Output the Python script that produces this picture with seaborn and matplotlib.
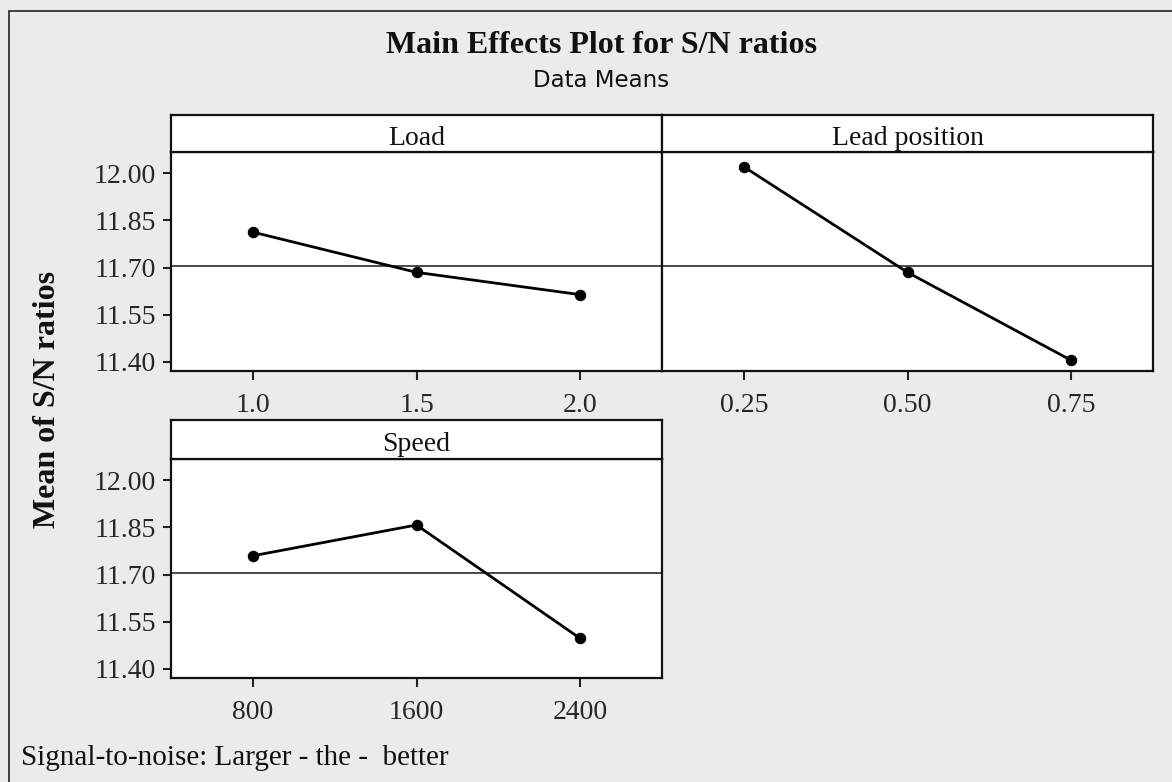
import numpy as np
import pandas as pd
import matplotlib
matplotlib.use("Agg")
import matplotlib.pyplot as plt
import seaborn as sns
from matplotlib.patches import Rectangle

# ---------------- data ----------------
load_levels = [1.0, 1.5, 2.0]
load_sn = [11.813, 11.685, 11.614]
load_ticklabels = ["1.0", "1.5", "2.0"]

leadpos_levels = [0.25, 0.50, 0.75]
leadpos_sn = [12.021, 11.685, 11.405]
leadpos_ticklabels = ["0.25", "0.50", "0.75"]

speed_levels = [800, 1600, 2400]
speed_sn = [11.760, 11.858, 11.497]
speed_ticklabels = ["800", "1600", "2400"]

y_ticks = [11.40, 11.55, 11.70, 11.85, 12.00]
y_ticklabels = ["11.40", "11.55", "11.70", "11.85", "12.00"]

panel_titles = ["Load", "Lead position", "Speed"]

grand_mean = float(np.mean(load_sn + leadpos_sn + speed_sn))

# ---------------- style ----------------
sns.set_theme(style="white")
plt.rcParams["font.family"] = ["Liberation Serif", "DejaVu Serif"]
plt.rcParams["text.color"] = "#111111"

W, H = 1172, 782
fig = plt.figure(figsize=(W / 100, H / 100), dpi=100, facecolor="#ebebeb")

# figure border (left/top visible)
fig.patches.append(Rectangle((9 / W, -0.05), 1.2, 1 - 11 / H + 0.05,
                             transform=fig.transFigure, fill=False,
                             edgecolor="#222222", linewidth=1.2, zorder=0))

YLIM = (11.371, 12.068)


def add_panel(l, r, strip_top, data_top, bottom, title, levels, values,
              ticklabels, xlim, show_y):
    ax = fig.add_axes([l / W, 1 - bottom / H, (r - l) / W, (bottom - data_top) / H])
    sax = fig.add_axes([l / W, 1 - data_top / H, (r - l) / W, (data_top - strip_top) / H])

    df = pd.DataFrame({"level": levels, "sn": values})
    ax.axhline(grand_mean, color="#3a3a3a", linewidth=1.3, zorder=1)
    sns.lineplot(data=df, x="level", y="sn", ax=ax, color="black",
                 linewidth=2.0, marker="o", markersize=7.5,
                 markeredgecolor="black", markerfacecolor="black", zorder=3)
    ax.set_facecolor("white")
    ax.set_xlim(*xlim)
    ax.set_ylim(*YLIM)
    ax.set_xticks(levels)
    ax.set_xticklabels(ticklabels)
    ax.set_xlabel("")
    ax.set_ylabel("")
    ax.tick_params(axis="x", direction="out", length=6.5, width=1.5,
                   color="#222222", labelsize=20, pad=9, bottom=True)
    if show_y:
        ax.set_yticks(y_ticks)
        ax.set_yticklabels(y_ticklabels)
        ax.tick_params(axis="y", direction="out", length=6, width=1.5,
                       color="#222222", labelsize=20, pad=5, left=True)
    else:
        ax.set_yticks(y_ticks)
        ax.set_yticklabels([])
        ax.tick_params(axis="y", left=False, length=0)
    for s in ax.spines.values():
        s.set_color("#111111")
        s.set_linewidth(1.6)
        s.set_visible(True)

    sax.set_facecolor("white")
    sax.set_xticks([])
    sax.set_yticks([])
    for s in sax.spines.values():
        s.set_color("#111111")
        s.set_linewidth(1.6)
        s.set_visible(True)
    sax.text(0.5, 0.2, title, transform=sax.transAxes, ha="center",
             va="baseline", fontsize=20)
    return ax


add_panel(171, 662, 115, 152, 371, panel_titles[0], load_levels, load_sn,
          load_ticklabels, (0.75, 2.25), True)
add_panel(662, 1153, 115, 152, 371, panel_titles[1], leadpos_levels, leadpos_sn,
          leadpos_ticklabels, (0.125, 0.875), False)
add_panel(171, 662, 420, 459, 678, panel_titles[2], speed_levels, speed_sn,
          speed_ticklabels, (400, 2800), True)

# titles and labels
fig.text(601 / W, 1 - 53 / H, "Main Effects Plot for S/N ratios", ha="center",
         va="baseline", fontsize=23, fontweight="bold")
fig.text(601 / W, 1 - 87 / H, "Data Means", ha="center", va="baseline",
         fontsize=16.5, family=["DejaVu Sans"])
fig.text(48 / W, 1 - 399 / H, "Mean of S/N ratios", ha="center", va="center",
         rotation=90, fontsize=23, fontweight="bold")
fig.text(21 / W, 1 - 765 / H, "Signal-to-noise: Larger - the -  better",
         ha="left", va="baseline", fontsize=21)

fig.savefig("out.png", dpi=100, facecolor=fig.get_facecolor())
